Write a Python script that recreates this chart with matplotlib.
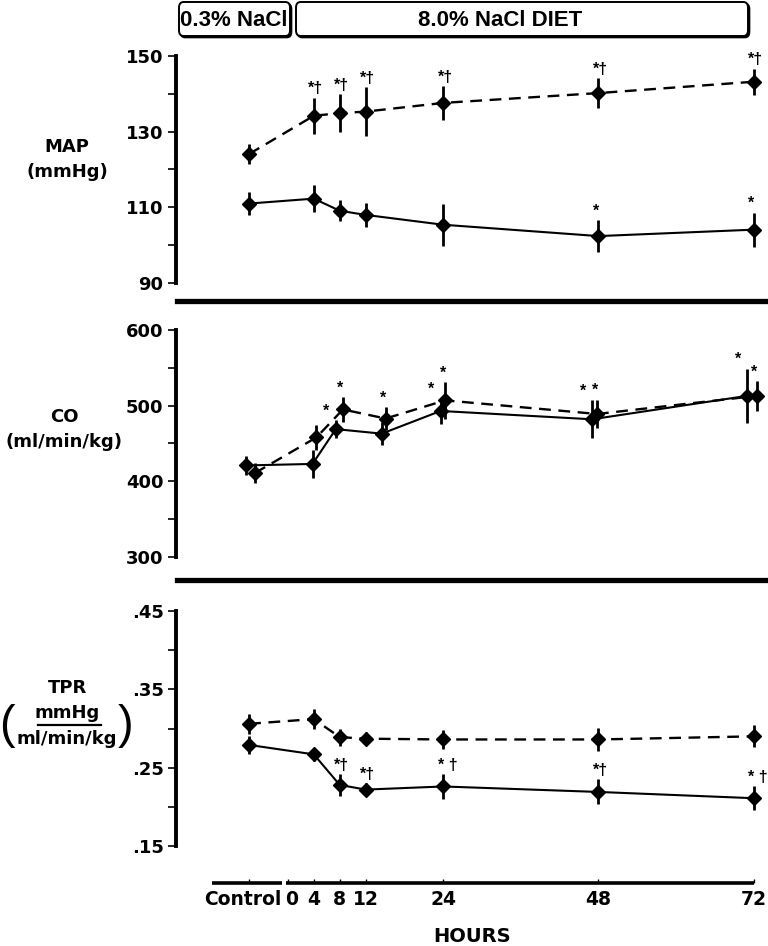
import numpy as np
import matplotlib.pyplot as plt
from matplotlib.patches import FancyBboxPatch
from matplotlib.lines import Line2D
from matplotlib.transforms import ScaledTranslation

plt.rcParams['font.family'] = ['DejaVu Sans']
plt.rcParams['font.weight'] = 'bold'

# ---- data ----
hours = [-6, 4, 8, 12, 24, 48, 72]
tick_pos = [-6, 0, 4, 8, 12, 24, 48, 72]
tick_labels = ['Control', '0', '4', '8', '12', '24', '48', '72']

map_solid = [111.0, 112.3, 109.1, 108.0, 105.4, 102.4, 104.1]
map_solid_err = [3.0, 3.6, 2.8, 3.2, 5.6, 4.2, 4.5]
map_solid_marks = ['', '', '', '', '', '*', '*']
map_dash = [124.1, 134.2, 134.9, 135.3, 137.6, 140.2, 143.2]
map_dash_err = [2.6, 4.8, 5.0, 6.5, 4.4, 3.9, 3.4]
map_dash_marks = ['', '*†', '*†', '*†', '*†', '*†', '*†']

co_solid_x = [-6.5, 3.8, 7.4, 14.5, 23.6, 47.0, 71.0]
co_solid = [421, 423, 469, 463, 493, 482, 513]
co_solid_err = [13, 18, 12, 15, 17, 25, 36]
co_solid_marks = ['', '', '*', '', '*', '*', '*']
co_dash_x = [-5.1, 4.4, 8.5, 15.1, 24.3, 47.8, 72.5]
co_dash = [411, 458, 495, 483, 507, 489, 513]
co_dash_err = [13, 16, 16, 15, 24, 19, 20]
co_dash_marks = ['', '', '*', '*', '*', '*', '*']

tpr_solid = [0.279, 0.267, 0.228, 0.222, 0.226, 0.219, 0.211]
tpr_solid_err = [0.011, 0.008, 0.014, 0.008, 0.016, 0.016, 0.015]
tpr_solid_marks = ['', '', '*†', '*†', '* †', '*†', '* †']
tpr_dash = [0.306, 0.312, 0.289, 0.287, 0.286, 0.286, 0.290]
tpr_dash_err = [0.013, 0.013, 0.011, 0.008, 0.012, 0.015, 0.014]
tpr_dash_marks = ['', '', '', '', '', '', '']

# ---- layout helpers (pixel based) ----
W_PX, H_PX = 768, 946
fig = plt.figure(figsize=(W_PX / 100, H_PX / 100), dpi=100, facecolor='white')
L_PX, R_PX = 176, 768
XMIN, XMAX = -17.3, 74.2
SANS = ['Liberation Sans', 'DejaVu Sans']


def fx(px):
    return px / W_PX


def fy(py):
    return 1 - py / H_PX


def panel(top, bot, ylo, yhi, major, minor, labels):
    ax = fig.add_axes([fx(L_PX), fy(bot), fx(R_PX - L_PX), (bot - top) / H_PX])
    ax.set_xlim(XMIN, XMAX)
    ax.set_ylim(ylo, yhi)
    ax.patch.set_alpha(0)
    for s in ['top', 'right', 'bottom']:
        ax.spines[s].set_visible(False)
    ax.spines['left'].set_linewidth(2.8)
    ax.set_xticks([])
    ax.set_yticks(major)
    ax.set_yticklabels(labels)
    ax.set_yticks(minor, minor=True)
    ax.tick_params(axis='y', which='both', direction='out', length=6, width=1.2,
                   labelsize=13, pad=3)
    return ax


def series(ax, x, y, e, dashed, marks, dx=0):
    if dashed:
        ax.plot(x, y, color='k', lw=1.7, ls=(0, (5, 3.2)), clip_on=False)
    else:
        ax.plot(x, y, color='k', lw=1.5, clip_on=False)
    ax.errorbar(x, y, yerr=e, fmt='D', color='k', ms=7.5, elinewidth=2,
                capsize=0, clip_on=False)
    for xi, yi, ei, m in zip(x, y, e, marks):
        if m:
            ax.annotate(m, (xi, yi + ei), xytext=(dx - 4, 1), textcoords='offset points',
                        ha='left', va='bottom', fontsize=11.5, fontweight='bold',
                        family=SANS)


# ---- MAP ----
ax1 = panel(56, 283, 90, 150, [90, 110, 130, 150], [100, 120, 140],
            ['90', '110', '130', '150'])
series(ax1, hours, map_solid, map_solid_err, False, map_solid_marks)
series(ax1, hours, map_dash, map_dash_err, True, map_dash_marks)

# ---- CO ----
ax2 = panel(330, 557, 300, 600, [300, 400, 500, 600], [350, 450, 550],
            ['300', '400', '500', '600'])
series(ax2, co_solid_x, co_solid, co_solid_err, False, co_solid_marks, dx=-5)
series(ax2, co_dash_x, co_dash, co_dash_err, True, co_dash_marks)

# ---- TPR ----
ax3 = panel(611, 846, 0.15, 0.45, [0.15, 0.25, 0.35, 0.45], [0.20, 0.30, 0.40],
            ['.15', '.25', '.35', '.45'])
series(ax3, hours, tpr_solid, tpr_solid_err, False, tpr_solid_marks)
series(ax3, hours, tpr_dash, tpr_dash_err, True, tpr_dash_marks)

# ---- x axis ----
axx = fig.add_axes([fx(L_PX), fy(883), fx(R_PX - L_PX), 0.0001])
axx.set_xlim(XMIN, XMAX)
axx.set_ylim(-1, 1)
axx.patch.set_alpha(0)
for s in axx.spines.values():
    s.set_visible(False)
axx.set_yticks([])
axx.plot([-11.7, -0.9], [0, 0], color='k', lw=2.6, clip_on=False, solid_capstyle='butt')
axx.plot([-0.3, 72], [0, 0], color='k', lw=2.6, clip_on=False, solid_capstyle='butt')
axx.set_xticks(tick_pos)
axx.set_xticklabels(tick_labels)
axx.tick_params(axis='x', direction='in', length=3, width=1, labelsize=13.5, pad=5)
nudge = {'Control': -6, '0': 4}
for lab in axx.get_xticklabels():
    d = nudge.get(lab.get_text(), 0)
    if d:
        lab.set_transform(lab.get_transform() + ScaledTranslation(d / 100, 0, fig.dpi_scale_trans))
fig.text(fx(472), fy(936), 'HOURS', ha='center', va='center', fontsize=14)

# ---- separators ----
for ypx in (301, 580):
    fig.add_artist(Line2D([fx(177), fx(766)], [fy(ypx), fy(ypx)], color='k', lw=3.8,
                          transform=fig.transFigure))

# ---- diet boxes ----
for x0, x1, tx, txt in [(179, 290, 234, '0.3% NaCl'), (296, 748, 500, '8.0% NaCl DIET')]:
    shadow = FancyBboxPatch((fx(x0 + 1.5), fy(37.5)), fx(x1 - x0), 34 / H_PX,
                            boxstyle='round,pad=0,rounding_size=0.006',
                            transform=fig.transFigure, fc='k', ec='k', lw=1.2)
    fig.add_artist(shadow)
    box = FancyBboxPatch((fx(x0), fy(36)), fx(x1 - x0), 34 / H_PX,
                         boxstyle='round,pad=0,rounding_size=0.006',
                         transform=fig.transFigure, fc='white', ec='k', lw=1.4)
    fig.add_artist(box)
    fig.text(fx(tx), fy(20), txt, ha='center', va='center', fontsize=16, family=SANS)

# ---- y labels ----
fig.text(fx(67), fy(147), 'MAP', ha='center', va='center', fontsize=13)
fig.text(fx(67), fy(172), '(mmHg)', ha='center', va='center', fontsize=13)
fig.text(fx(64), fy(417), 'CO', ha='center', va='center', fontsize=13)
fig.text(fx(64), fy(442), '(ml/min/kg)', ha='center', va='center', fontsize=13)
fig.text(fx(67), fy(688), 'TPR', ha='center', va='center', fontsize=13)
fig.text(fx(67), fy(713), 'mmHg', ha='center', va='center', fontsize=13)
fig.add_artist(Line2D([fx(38), fx(101)], [fy(725), fy(725)], color='k', lw=1.6,
                      transform=fig.transFigure))
fig.text(fx(67), fy(739), 'ml/min/kg', ha='center', va='center', fontsize=13)
fig.text(fx(7), fy(726), '(', ha='center', va='center', fontsize=34, fontweight='normal',
         family=SANS)
fig.text(fx(126), fy(726), ')', ha='center', va='center', fontsize=34, fontweight='normal',
         family=SANS)

fig.savefig('out.png', dpi=100)
